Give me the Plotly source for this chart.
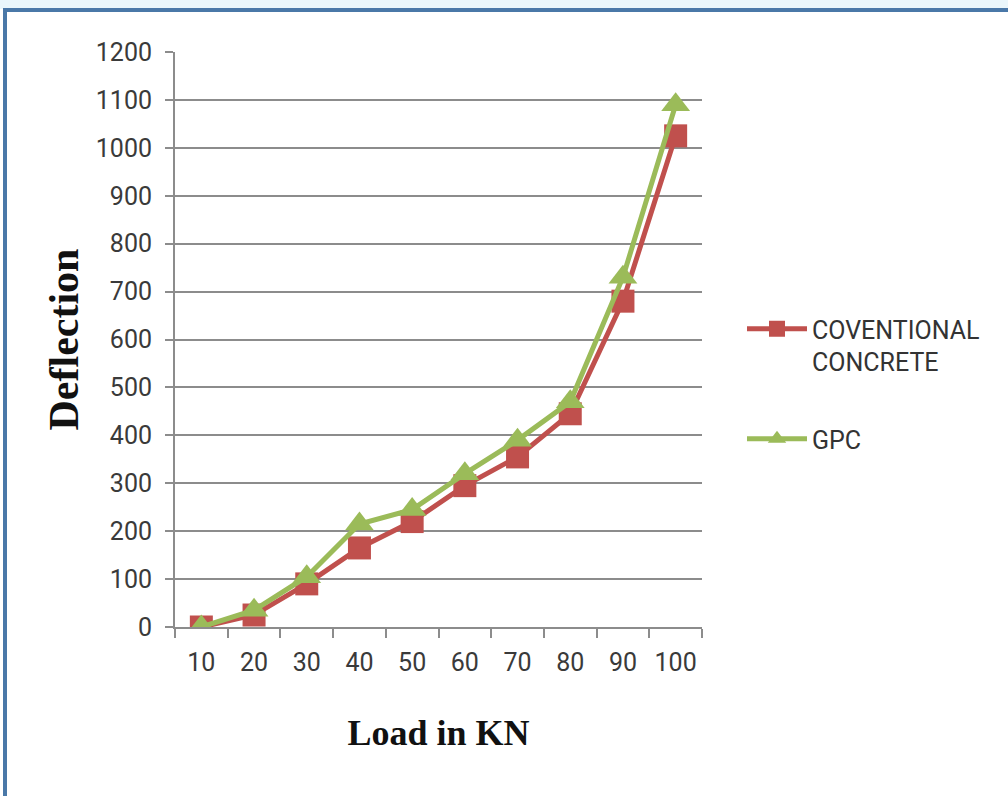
import plotly.graph_objects as go

# Load steps (KN) and measured deflection for each mix
loads = ["10", "20", "30", "40", "50", "60", "70", "80", "90", "100"]
conventional = [0, 25, 90, 165, 220, 295, 355, 445, 680, 1025]
gpc = [0, 35, 105, 215, 245, 320, 390, 470, 730, 1090]
y_ticks = [0, 100, 200, 300, 400, 500, 600, 700, 800, 900, 1000, 1100, 1200]

W, H = 1008, 796
L, R, T, B = 175, 306, 52, 169
pw, ph = W - L - R, H - T - B


def px_x(p):
    return (p - L) / pw


def px_y(p):
    return (H - B - p) / ph


tick_font = dict(family="Roboto, sans-serif", size=25, color="#3a3a3a")
title_font = dict(family="Liberation Serif, Times New Roman, serif", size=36, color="#111111")

fig = go.Figure()
fig.add_trace(go.Scatter(
    x=loads, y=conventional, name="COVENTIONAL<br>CONCRETE",
    legendgroup="cc", mode="lines+markers",
    line=dict(color="#c0504d", width=5),
    marker=dict(symbol="square", size=23, color="#c0504d"),
))
fig.add_trace(go.Scatter(
    x=loads, y=gpc, name="GPC",
    legendgroup="gpc", mode="lines+markers",
    line=dict(color="#9bbb59", width=5),
    marker=dict(symbol="triangle-up", size=25, color="#9bbb59"),
))

fig.update_layout(
    width=W, height=H,
    margin=dict(l=L, r=R, t=T, b=B),
    paper_bgcolor="white", plot_bgcolor="white",
    showlegend=True,
    legend=dict(
        x=px_x(742), y=px_y(306), xanchor="left", yanchor="top",
        font=dict(family="Roboto, sans-serif", size=25, color="#333333"),
        itemwidth=60, tracegroupgap=42, valign="top",
        bgcolor="rgba(0,0,0,0)",
    ),
    xaxis=dict(
        type="category", tickson="boundaries", tickangle=0,
        ticks="outside", ticklen=9, tickcolor="#8c8c8c", tickwidth=2,
        showline=True, linecolor="#8c8c8c", linewidth=2,
        showgrid=False, tickfont=tick_font, ticklabelstandoff=12,
        title=dict(text="<b>Load in KN</b>", font=title_font, standoff=44),
        range=[-0.5, 9.5],
    ),
    yaxis=dict(
        range=[0, 1200], tickvals=y_ticks,
        ticks="outside", ticklen=8, tickcolor="#8c8c8c", tickwidth=2,
        showline=True, linecolor="#8c8c8c", linewidth=2,
        showgrid=True, gridcolor="#8c8c8c", gridwidth=2,
        zeroline=False, tickfont=tick_font, ticklabelstandoff=8,
        title=dict(text="<b>Deflection</b>", font=dict(title_font, size=42), standoff=4),
    ),
    shapes=[
        # pale strip above the frame
        dict(type="rect", xref="paper", yref="paper",
             x0=px_x(0), x1=px_x(W), y0=px_y(0), y1=px_y(9),
             fillcolor="#eaf6fb", line=dict(width=0), layer="below"),
        # blue frame, top and left edges
        dict(type="line", xref="paper", yref="paper",
             x0=px_x(3), x1=px_x(W), y0=px_y(10), y1=px_y(10),
             line=dict(color="#4a78a8", width=4)),
        dict(type="line", xref="paper", yref="paper",
             x0=px_x(5), x1=px_x(5), y0=px_y(8), y1=px_y(H),
             line=dict(color="#4a78a8", width=4)),
    ],
)

fig.write_html("out.html")
